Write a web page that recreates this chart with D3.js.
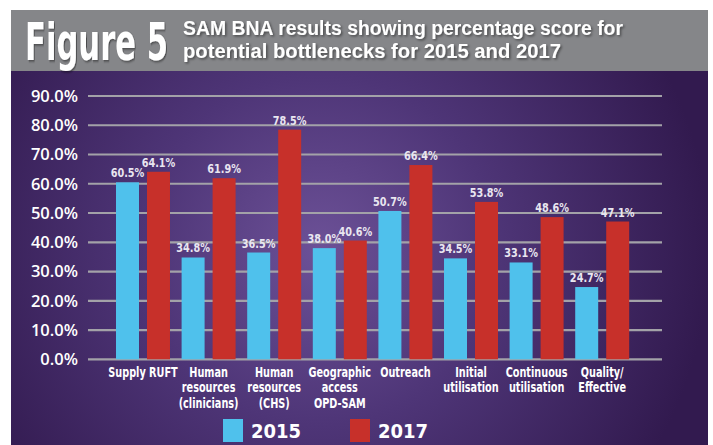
<!DOCTYPE html>
<html>
<head>
<meta charset="utf-8">
<script src="https://cdnjs.cloudflare.com/ajax/libs/d3/7.8.5/d3.min.js"></script>
<style>
  html, body { margin: 0; padding: 0; background: #fff; }
  svg { display: block; }
</style>
</head>
<body>
<svg></svg>
<script>
const categories = ["Supply RUFT", "Human\nresources\n(clinicians)", "Human\nresources\n(CHS)",
  "Geographic\naccess\nOPD-SAM", "Outreach", "Initial\nutilisation", "Continuous\nutilisation", "Quality/\nEffective"];
const years = ["2015", "2017"];
const values2015 = [60.5, 34.8, 36.5, 38.0, 50.7, 34.5, 33.1, 24.7];
const values2017 = [64.1, 61.9, 78.5, 40.6, 66.4, 53.8, 48.6, 47.1];
const yTicks = [0, 10, 20, 30, 40, 50, 60, 70, 80, 90];
const subtitle = ["SAM BNA results showing percentage score for", "potential bottlenecks for 2015 and 2017"];
const colors = ["#4fc1ec", "#c7302a"];

let width = 713;
let height = 445;

let svg = d3.select("svg")
            .attr("width", width)
            .attr("height", height);

let defs = svg.append("defs");

// purple glow behind the chart
let grad = defs.append("radialGradient")
   .attr("id", "bg")
   .attr("gradientUnits", "userSpaceOnUse")
   .attr("cx", 320).attr("cy", 250).attr("r", 390);
grad.append("stop").attr("offset", "0%").attr("stop-color", "#6c5197");
grad.append("stop").attr("offset", "45%").attr("stop-color", "#4e3577");
grad.append("stop").attr("offset", "100%").attr("stop-color", "#321a4f");

let shadow = defs.append("filter").attr("id", "shadow")
   .attr("x", "-10%").attr("y", "-20%").attr("width", "130%").attr("height", "150%");
shadow.append("feDropShadow")
   .attr("dx", 1.5).attr("dy", 1.5).attr("stdDeviation", 1.2)
   .attr("flood-color", "#000").attr("flood-opacity", 0.45);

// header band and panel
svg.append("rect")
   .attr("x", 11).attr("y", 10).attr("width", 697).attr("height", 61)
   .attr("fill", "#858689");
svg.append("rect")
   .attr("x", 11).attr("y", 71).attr("width", 697).attr("height", height - 71)
   .attr("fill", "url(#bg)");

// squeeze the big label horizontally so its box stays left of the subtitle
svg.append("text")
   .attr("transform", "translate(25,60) scale(0.655,1)")
   .attr("filter", "url(#shadow)")
   .style("font-family", "'Liberation Sans Narrow', 'DejaVu Sans Condensed', sans-serif")
   .style("font-weight", "bold")
   .style("font-size", "52px")
   .attr("fill", "#fff")
   .text("Figure 5");

// two-line subtitle, each line fitted to the width it has in the original
let subWidths = [440, 378];
svg.append("g")
   .attr("filter", "url(#shadow)")
   .selectAll("text")
   .data(subtitle)
   .enter()
   .append("text")
     .attr("x", 183)
     .attr("y", (d, i) => 35 + i * 23)
     .attr("textLength", (d, i) => subWidths[i])
     .attr("lengthAdjust", "spacingAndGlyphs")
     .style("font-family", "'Liberation Sans', sans-serif")
     .style("font-weight", "bold")
     .style("font-size", "19.5px")
     .attr("fill", "#fff")
     .text(d => d);

// scales
let yScale = d3.scaleLinear()
               .domain([0, 90])
               .range([359.3, 96]);

let x0 = d3.scaleBand()
           .domain(categories)
           .range([116, 629.2])
           .paddingInner(0.177)
           .paddingOuter(0);

let x1 = d3.scaleBand()
           .domain(years)
           .range([0, x0.bandwidth()])
           .paddingInner(0.258)
           .paddingOuter(0);

// gridlines
svg.append("g")
   .selectAll("line")
   .data(yTicks)
   .enter()
   .append("line")
     .attr("x1", 88).attr("x2", 662)
     .attr("y1", d => yScale(d)).attr("y2", d => yScale(d))
     .attr("stroke", "#a3a2a8")
     .attr("stroke-width", 2.2);

// y axis labels
svg.append("g")
   .selectAll("text")
   .data(yTicks)
   .enter()
   .append("text")
     .attr("x", 78)
     .attr("y", d => yScale(d))
     .attr("dy", "0.36em")
     .attr("text-anchor", "end")
     .style("font-family", "'Open Sans', sans-serif")
     .style("font-weight", 600)
     .style("font-size", "16.5px")
     .attr("fill", "#fff")
     .text(d => d.toFixed(1) + "%");

// bars
let rows = categories.map((c, i) => ({
  category: c,
  values: [
    {year: years[0], value: values2015[i]},
    {year: years[1], value: values2017[i]}
  ]
}));

let groups = svg.append("g")
   .selectAll("g")
   .data(rows)
   .enter()
   .append("g")
     .attr("transform", d => `translate(${x0(d.category)},0)`);

groups.selectAll("rect")
   .data(d => d.values)
   .enter()
   .append("rect")
     .attr("x", d => x1(d.year))
     .attr("y", d => yScale(d.value))
     .attr("width", x1.bandwidth())
     .attr("height", d => yScale(0) - yScale(d.value))
     .attr("fill", (d, i) => colors[i]);

groups.selectAll("text")
   .data(d => d.values)
   .enter()
   .append("text")
     .attr("transform", d => `translate(${x1(d.year) + x1.bandwidth() / 2},${yScale(d.value) - 5}) scale(0.9,1)`)
     .attr("text-anchor", "middle")
     .style("font-family", "'Liberation Sans Narrow', 'DejaVu Sans Condensed', sans-serif")
     .style("font-weight", "bold")
     .style("font-size", "12px")
     .attr("fill", "#e9e6f0")
     .text(d => d.value.toFixed(1) + "%");

// category labels
let catLabels = svg.append("g")
   .selectAll("text")
   .data(categories)
   .enter()
   .append("text")
     .attr("transform", d => `translate(${x0(d) + x0.bandwidth() / 2},377) scale(0.8,1)`)
     .attr("text-anchor", "middle")
     .style("font-family", "'Liberation Sans Narrow', 'DejaVu Sans Condensed', sans-serif")
     .style("font-weight", "bold")
     .style("font-size", "13.5px")
     .attr("fill", "#fff");

catLabels.selectAll("tspan")
   .data(d => d.split("\n"))
   .enter()
   .append("tspan")
     .attr("x", 0)
     .attr("y", (d, i) => i * 15.5)
     .text(d => d);

// legend
let legend = svg.append("g")
   .selectAll("g")
   .data(years)
   .enter()
   .append("g")
     .attr("transform", (d, i) => `translate(${223 + i * 127},419)`);

legend.append("rect")
   .attr("width", 20).attr("height", 23)
   .attr("fill", (d, i) => colors[i]);

legend.append("text")
   .attr("x", 28).attr("y", 19)
   .style("font-family", "'Liberation Sans Narrow', 'DejaVu Sans Condensed', sans-serif")
   .style("font-weight", "bold")
   .style("font-size", "20px")
   .attr("fill", "#fff")
   .text(d => d);
</script>
</body>
</html>
